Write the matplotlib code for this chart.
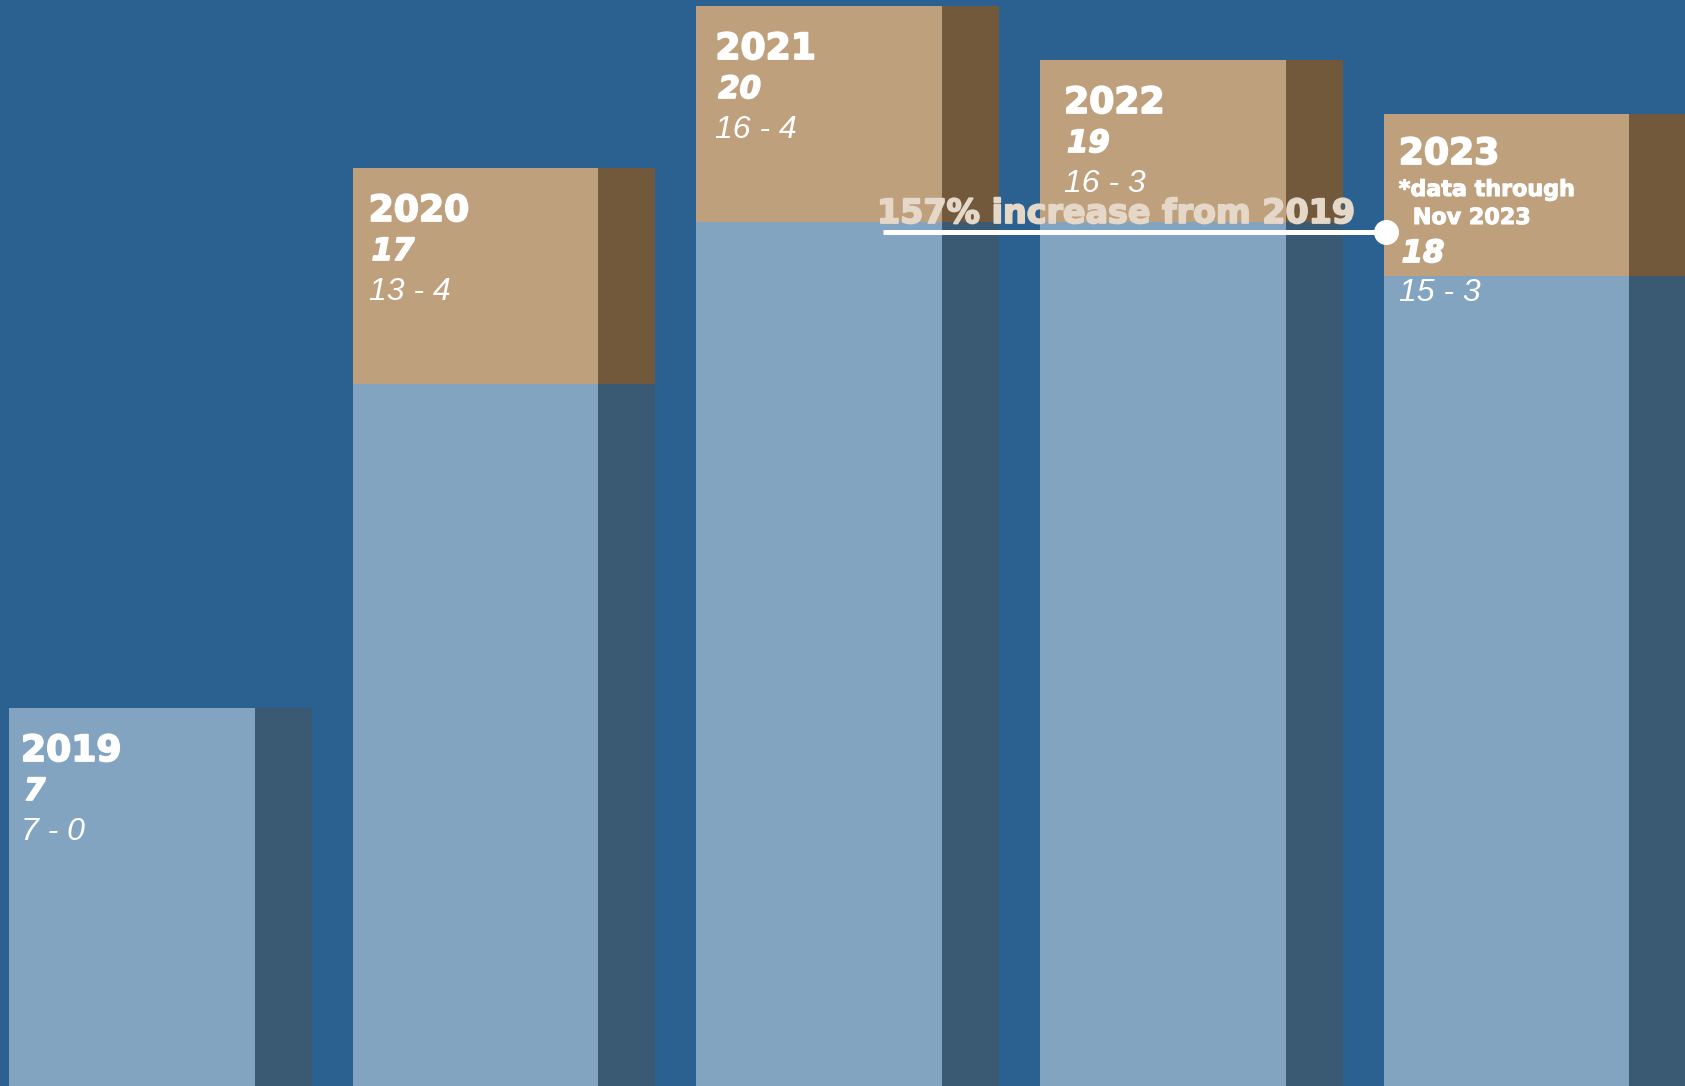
import matplotlib
matplotlib.use("Agg")
import matplotlib.pyplot as plt
import matplotlib.patheffects as pe
import numpy as np

# ---- data ----
years = ["2019", "2020", "2021", "2022", "2023"]
first_part = [7, 13, 16, 16, 15]
second_part = [0, 4, 4, 3, 3]
totals = [7, 17, 20, 19, 18]
range_labels = ["7 - 0", "13 - 4", "16 - 4", "16 - 3", "15 - 3"]
note_2023 = ["*data through", "Nov 2023"]
annotation_text = "157% increase from 2019"

# ---- style ----
BG = "#2A6190"
LIGHT = "#82A4C1"
DARK_BLUE = "#3A5A74"
TAN = "#BFA07D"
BROWN = "#72593C"
CREAM = "#E6D8C8"

W, H = 1685, 1086
PX_UNIT = 343.7          # pixels per category
PX_Y = 54.0              # pixels per value unit
light_w = 245.5 / PX_UNIT
dark_w = 57.0 / PX_UNIT

fig = plt.figure(figsize=(W / 100, H / 100), dpi=100, facecolor=BG)
ax = fig.add_axes([0, 0, 1, 1])
ax.set_facecolor(BG)
x0 = -9 / PX_UNIT
ax.set_xlim(x0, x0 + W / PX_UNIT)
ax.set_ylim(0, H / PX_Y)
ax.axis("off")

x = np.arange(len(years))
first = np.array(first_part)
second = np.array(second_part)

ax.bar(x, first, width=light_w, align="edge", color=LIGHT, zorder=2)
ax.bar(x, second, bottom=first, width=light_w, align="edge", color=TAN, zorder=2)
ax.bar(x + light_w, first, width=dark_w, align="edge", color=DARK_BLUE, zorder=2)
ax.bar(x + light_w, second, bottom=first, width=dark_w, align="edge", color=BROWN, zorder=2)

heavy = [pe.withStroke(linewidth=1.3, foreground="white")]
heavy_cream = [pe.withStroke(linewidth=1.3, foreground=CREAM)]

text_dx = [12, 16, 19, 24, 15]   # px offset of labels from bar left

for i, yr in enumerate(years):
    top = totals[i]
    tx = x[i] + text_dx[i] / PX_UNIT
    if yr == "2023":
        offs = dict(year=50, num=148, rng=187)
    else:
        offs = dict(year=53, num=92, rng=132)
    ax.text(tx, top - offs["year"] / PX_Y, yr, family="DejaVu Sans", weight="bold",
            fontsize=26, color="white", va="baseline", ha="left", zorder=5,
            path_effects=heavy)
    ax.text(tx + 3 / PX_UNIT, top - offs["num"] / PX_Y, str(totals[i]), family="DejaVu Sans",
            weight="bold", style="italic", fontsize=22, color="white",
            va="baseline", ha="left", zorder=5, path_effects=heavy)
    ax.text(tx, top - offs["rng"] / PX_Y, range_labels[i], family="Liberation Sans",
            style="italic", fontsize=23, color="white", va="baseline", ha="left", zorder=5)
    if yr == "2023":
        ax.text(tx, top - 82 / PX_Y, note_2023[0], family="DejaVu Sans", weight="bold",
                fontsize=16, color="white", va="baseline", ha="left", zorder=5,
                path_effects=[pe.withStroke(linewidth=0.8, foreground="white")])
        ax.text(tx + 14 / PX_UNIT, top - 110 / PX_Y, note_2023[1], family="DejaVu Sans",
                weight="bold", fontsize=16, color="white", va="baseline", ha="left", zorder=5,
                path_effects=[pe.withStroke(linewidth=0.8, foreground="white")])

# annotation line from 2019-level callout to 2023 bar
line_y = (H - 232) / PX_Y
lx0 = x0 + 883 / PX_UNIT
lx1 = x0 + 1386 / PX_UNIT
ax.plot([lx0, lx1], [line_y, line_y], color="white", lw=3.6, solid_capstyle="butt", zorder=6)
ax.plot([lx1], [line_y], marker="o", markersize=17, color="white", zorder=7)
ax.text(x0 + 877 / PX_UNIT, (H - 223) / PX_Y, annotation_text, family="DejaVu Sans",
        weight="bold", fontsize=24, color=CREAM, va="baseline", ha="left", zorder=6,
        path_effects=heavy_cream)

fig.savefig("out.png", dpi=100, facecolor=BG)
